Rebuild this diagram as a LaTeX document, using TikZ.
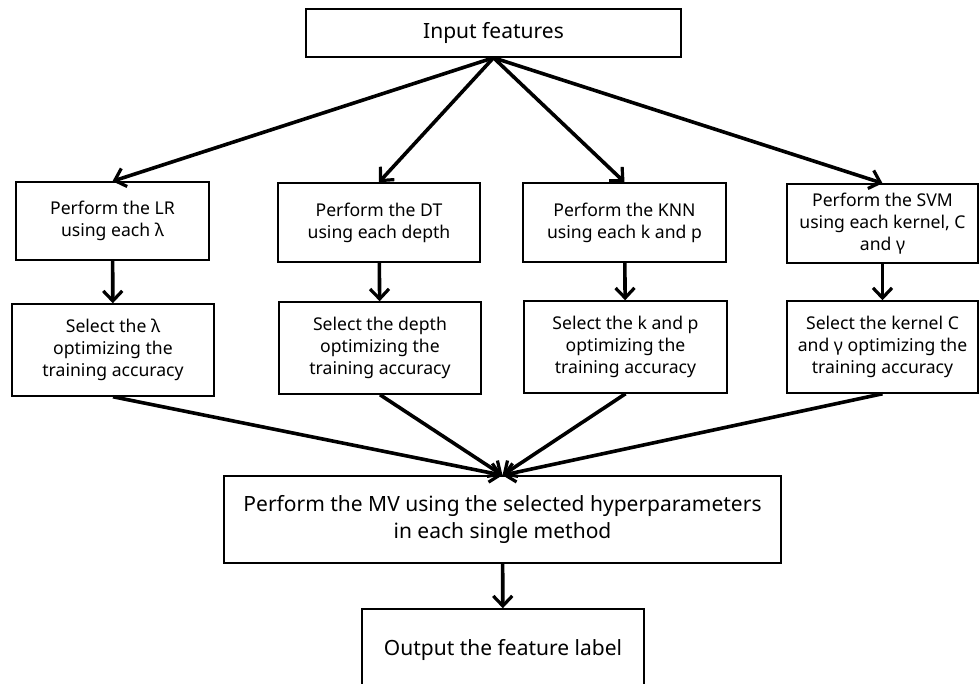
\documentclass[tikz,border=0pt]{standalone}
\usepackage{fontspec}
\setmainfont{Noto Sans}
\usetikzlibrary{arrows.meta}
\begin{document}
\begin{tikzpicture}[x=1pt,y=-1pt,
  box/.style={draw=black,line width=1.5pt,fill=white,align=center,inner sep=0pt,
    font=\fontsize{17.6}{21.8}\selectfont},
  bigbox/.style={box,font=\fontsize{21}{26.7}\selectfont},
  arr/.style={line width=3.6pt,-{Straight Barb[length=10pt,width=19pt,line width=3.2pt]}}]
\useasboundingbox (0,0) rectangle (979,684);
\fill[white] (0,0) rectangle (979,684);
\node[bigbox,minimum width=375pt,minimum height=48pt] (in) at (493.5,33) {\raisebox{-1pt}{Input features}};
\node[box,minimum width=193pt,minimum height=78pt] (lr) at (112.5,221) {Perform the LR\\using each λ};
\node[box,minimum width=202pt,minimum height=79pt] (dt) at (379,222.5) {Perform the DT\\using each depth};
\node[box,minimum width=203pt,minimum height=79pt] (knn) at (624.5,222.5) {Perform the KNN\\using each k and p};
\node[box,minimum width=191pt,minimum height=79pt] (svm) at (882.5,223.5) {Perform the SVM\\using each kernel, C\\and γ};
\node[box,minimum width=202pt,minimum height=92pt] (slr) at (113,350) {Select the λ\\optimizing the\\training accuracy};
\node[box,minimum width=202pt,minimum height=92pt] (sdt) at (380,348) {Select the depth\\optimizing the\\training accuracy};
\node[box,minimum width=203pt,minimum height=92pt] (sknn) at (625.5,347) {Select the k and p\\optimizing the\\training accuracy};
\node[box,minimum width=191pt,minimum height=92pt] (ssvm) at (882.5,347) {Select the kernel C\\and γ optimizing the\\training accuracy};
\node[bigbox,minimum width=557pt,minimum height=87pt] (mv) at (502.5,519.5) {Perform the MV using the selected hyperparameters\\in each single method};
\node[draw=black,line width=1.5pt,minimum width=282pt,minimum height=100pt,inner sep=0pt] (out) at (503,659) {};
\node[font=\fontsize{21}{26.7}\selectfont] (outtxt) at (503,650) {Output the feature label};
\foreach \t in {lr,dt,knn,svm}{\draw[arr] (in.south) -- (\t.north);}
\draw[arr] (lr) -- (slr);
\draw[arr] (dt) -- (sdt);
\draw[arr] (knn) -- (sknn);
\draw[arr] (svm) -- (ssvm);
\foreach \s in {slr,sdt,sknn,ssvm}{\draw[arr] (\s.south) -- (mv.north);}
\draw[arr] (mv) -- (out);
\end{tikzpicture}
\end{document}
